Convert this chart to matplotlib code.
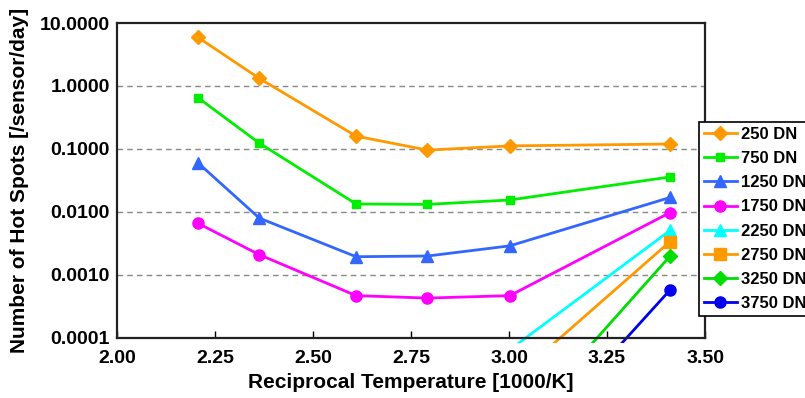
import matplotlib
matplotlib.use("Agg")
import matplotlib.pyplot as plt
from matplotlib.ticker import FixedLocator, FixedFormatter
from matplotlib.transforms import Bbox, TransformedBbox
import numpy as np

# reciprocal temperature points (180, 150, 110, 85, 60, 20 degC)
RECIP_T = [2.207, 2.363, 2.610, 2.792, 3.002, 3.411]
nan = np.nan

# hot spots per sensor per day
DN_250 = [5.9, 1.32, 0.16, 0.096, 0.112, 0.12]
DN_750 = [0.65, 0.124, 0.0134, 0.0132, 0.0155, 0.036]
DN_1250 = [0.060, 0.0080, 0.00195, 0.0020, 0.0029, 0.017]
DN_1750 = [0.0066, 0.0021, 0.00047, 0.00043, 0.00047, 0.0098]
# these four start far below the axis range
DN_2250 = [nan, nan, nan, nan, 6.5e-5, 0.0051]
DN_2750 = [nan, nan, nan, nan, 2.0e-5, 0.0034]
DN_3250 = [nan, nan, nan, nan, 2.8e-6, 0.0020]
DN_3750 = [nan, nan, nan, nan, 9.0e-7, 0.00058]

SERIES = [
    ("250 DN", DN_250, "#FF9900", "D", 7),
    ("750 DN", DN_750, "#00EE00", "s", 6),
    ("1250 DN", DN_1250, "#3366FF", "^", 9),
    ("1750 DN", DN_1750, "#FF00FF", "o", 8),
    ("2250 DN", DN_2250, "#00FFFF", "^", 9),
    ("2750 DN", DN_2750, "#FF9900", "s", 8),
    ("3250 DN", DN_3250, "#00DD00", "D", 7),
    ("3750 DN", DN_3750, "#0000EE", "o", 8),
]

plt.rcParams["font.family"] = ["Liberation Sans", "DejaVu Sans"]
plt.rcParams["font.weight"] = "bold"

fig = plt.figure(figsize=(8.05, 3.98), dpi=100)
ax = fig.add_axes([0.1453, 0.1508, 0.7305, 0.7914])

# let lines run a few pixels past the bottom of the plot area
clip = TransformedBbox(Bbox([[0, -0.017], [1, 1]]), ax.transAxes)

for label, vals, color, marker, ms in SERIES:
    ln, = ax.plot(RECIP_T, vals, "-", color=color, marker=marker, ms=ms,
                  lw=2.0, label=label)
    ln.set_clip_box(clip)

ax.set_yscale("log")
ax.set_xlim(2.0, 3.5)
ax.set_ylim(1e-4, 10)

yt = [1e-4, 1e-3, 1e-2, 1e-1, 1, 10]
ax.yaxis.set_major_locator(FixedLocator(yt))
ax.yaxis.set_major_formatter(FixedFormatter(["0.0001", "0.0010", "0.0100",
                                             "0.1000", "1.0000", "10.0000"]))
ax.yaxis.set_minor_locator(FixedLocator([]))
ax.set_xticks([2.0, 2.25, 2.5, 2.75, 3.0, 3.25, 3.5])
ax.set_xticklabels(["2.00", "2.25", "2.50", "2.75", "3.00", "3.25", "3.50"])

for g in [1e-3, 1e-2, 1e-1, 1]:
    ax.axhline(g, color="#888888", ls=(0, (4, 3)), lw=1.0, zorder=0)

ax.tick_params(axis="x", direction="in", length=5, width=1, labelsize=14, pad=9)
ax.tick_params(axis="y", length=0, labelsize=14, pad=5)
for s in ax.spines.values():
    s.set_linewidth(1.6)
    s.set_color("#222222")

ax.set_xlabel("Reciprocal Temperature [1000/K]", fontsize=15,
              fontweight="bold", labelpad=4)
ax.set_ylabel("Number of Hot Spots [/sensor/day]", fontsize=15,
              fontweight="bold", labelpad=8)

leg = fig.legend(loc="upper left", bbox_to_anchor=(0.868, 0.6935),
                 borderaxespad=0, fontsize=12, numpoints=1, handlelength=2.0,
                 handletextpad=0.25, labelspacing=0.55, borderpad=0.3,
                 fancybox=False, edgecolor="black", framealpha=1)
leg.get_frame().set_linewidth(1.2)
for t in leg.get_texts():
    t.set_fontweight("bold")

fig.savefig("out.png", dpi=100)
